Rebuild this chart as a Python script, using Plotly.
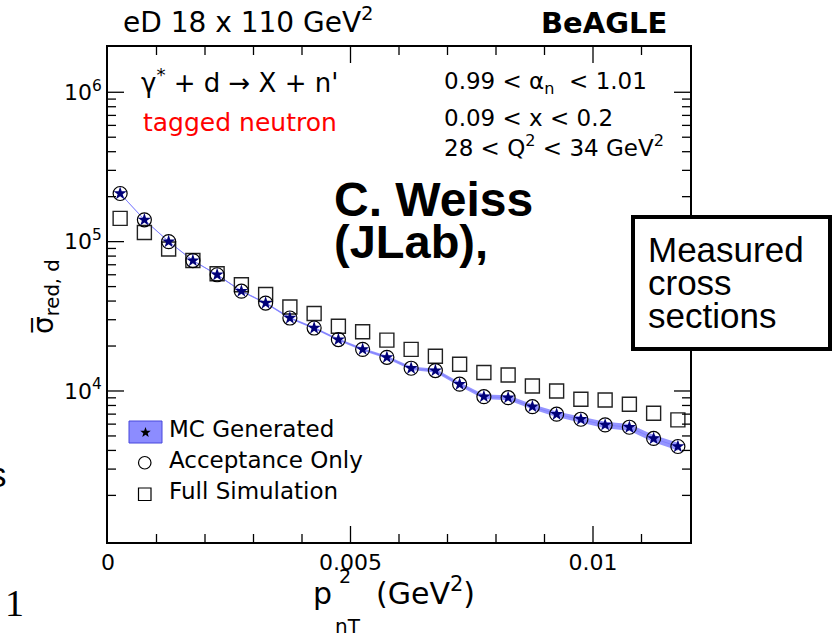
import math
import plotly.graph_objects as go

# ---------------- data ----------------
pt2_bins = [0.00025, 0.00075, 0.00125, 0.00175, 0.00225, 0.00275, 0.00325, 0.00375,
            0.00425, 0.00475, 0.00525, 0.00575, 0.00625, 0.00675, 0.00725, 0.00775,
            0.00825, 0.00875, 0.00925, 0.00975, 0.01025, 0.01075, 0.01125, 0.01175]

mc_generated = [2.10e5, 1.40e5, 1.00e5, 7.47e4, 6.00e4, 4.66e4, 3.88e4, 3.08e4,
                2.64e4, 2.21e4, 1.90e4, 1.68e4, 1.42e4, 1.37e4, 1.11e4, 9.16e3,
                9.02e3, 7.85e3, 6.99e3, 6.47e3, 5.93e3, 5.72e3, 4.81e3, 4.25e3]

mc_rel_err = [0.003, 0.004, 0.005, 0.006, 0.008, 0.010, 0.012, 0.014,
              0.016, 0.018, 0.020, 0.023, 0.026, 0.028, 0.031, 0.034,
              0.037, 0.040, 0.043, 0.046, 0.049, 0.052, 0.056, 0.060]

acceptance_only = [2.10e5, 1.40e5, 1.00e5, 7.47e4, 6.00e4, 4.66e4, 3.88e4, 3.08e4,
                   2.64e4, 2.21e4, 1.90e4, 1.68e4, 1.42e4, 1.37e4, 1.11e4, 9.16e3,
                   9.02e3, 7.85e3, 6.99e3, 6.47e3, 5.93e3, 5.72e3, 4.81e3, 4.25e3]

full_simulation = [1.43e5, 1.15e5, 8.93e4, 7.47e4, 6.09e4, 5.14e4, 4.43e4, 3.65e4,
                   3.30e4, 2.71e4, 2.49e4, 2.19e4, 1.90e4, 1.71e4, 1.51e4, 1.33e4,
                   1.28e4, 1.08e4, 1.00e4, 8.81e3, 8.71e3, 8.15e3, 7.09e3, 6.41e3]

x_tick_vals = [0, 0.005, 0.01]
x_tick_text = ["0", "0.005", "0.01"]
x_minor_vals = [0.001, 0.002, 0.003, 0.004, 0.006, 0.007, 0.008, 0.009, 0.011]
y_tick_vals = [1e4, 1e5, 1e6]
y_tick_text = ["10<sup>4</sup>", "10<sup>5</sup>", "10<sup>6</sup>"]
y_minor_vals = [k * 10 ** d for d in range(3, 7) for k in range(2, 10) if k * 10 ** d < 2e6]

legend_labels = ["MC Generated", "Acceptance Only", "Full Simulation"]

# ---------------- geometry helpers ----------------
W, H = 833, 634
L, R, T, B = 108, 690, 47, 542
PW, PH = R - L, B - T
X_RANGE = [0, 0.012]
Y_LOG_RANGE = [2.989, 6.303]


def px(x):
    return (x - L) / PW


def py(y):
    return (B - y) / PH


ROOT_FONT = "DejaVu Sans"
SLIDE_FONT = "Liberation Sans"

fig = go.Figure()

band_lo = [v * (1 - e) for v, e in zip(mc_generated, mc_rel_err)]
band_hi = [v * (1 + e) for v, e in zip(mc_generated, mc_rel_err)]

fig.add_trace(go.Scatter(x=pt2_bins, y=band_lo, mode="lines",
                         line=dict(width=0, color="rgba(130,130,255,0)"),
                         showlegend=False, hoverinfo="skip"))
fig.add_trace(go.Scatter(x=pt2_bins, y=band_hi, mode="lines", fill="tonexty",
                         fillcolor="rgba(130,130,255,0.85)",
                         line=dict(width=0, color="rgba(130,130,255,0)"),
                         showlegend=False, hoverinfo="skip"))
fig.add_trace(go.Scatter(x=pt2_bins, y=mc_generated, mode="lines",
                         line=dict(width=1, color="rgb(130,130,255)"),
                         showlegend=False, hoverinfo="skip"))

fig.add_trace(go.Scatter(x=pt2_bins, y=full_simulation, mode="markers",
                         marker=dict(symbol="square-open", size=14, color="#222222",
                                     line=dict(width=1.4, color="#222222")),
                         name=legend_labels[2], showlegend=False))
fig.add_trace(go.Scatter(x=pt2_bins, y=acceptance_only, mode="markers",
                         marker=dict(symbol="circle-open", size=14, color="black",
                                     line=dict(width=1.2, color="black")),
                         name=legend_labels[1], showlegend=False))
fig.add_trace(go.Scatter(x=pt2_bins, y=mc_generated, mode="markers",
                         marker=dict(symbol="star", size=10, color="#000078",
                                     line=dict(width=0)),
                         name=legend_labels[0], showlegend=False))

# ---------------- axis tick marks (inside, mirrored), drawn as a line trace ----------------
ylo, yhi = Y_LOG_RANGE
xlo, xhi = X_RANGE
tick_x, tick_y = [], []
for v in x_tick_vals[1:] + x_minor_vals:
    frac = (16 if v in x_tick_vals else 8) / PH * (yhi - ylo)
    tick_x += [v, v, None, v, v, None]
    tick_y += [10 ** ylo, 10 ** (ylo + frac), None, 10 ** yhi, 10 ** (yhi - frac), None]
for v in y_tick_vals + y_minor_vals:
    frac = (16 if v in y_tick_vals else 8) / PW * (xhi - xlo)
    tick_x += [xlo, xlo + frac, None, xhi, xhi - frac, None]
    tick_y += [v, v, None, v, v, None]
fig.add_trace(go.Scatter(x=tick_x, y=tick_y, mode="lines", connectgaps=False,
                         line=dict(color="black", width=1.3), cliponaxis=False,
                         showlegend=False, hoverinfo="skip"))

shapes = []
# ---------------- hand-built legend glyphs (paper coordinates) ----------------
shapes.append(dict(type="rect", xref="paper", yref="paper",
                   x0=px(129), x1=px(162), y0=py(443), y1=py(421),
                   fillcolor="rgb(140,140,255)", line=dict(color="rgb(70,70,220)", width=1)))


def star_path(cx, cy, r_out, r_in):
    pts = []
    for i in range(10):
        r = r_out if i % 2 == 0 else r_in
        a = math.pi / 2 + i * math.pi / 5
        pts.append((px(cx + r * math.cos(a)), py(cy - r * math.sin(a))))
    return "M " + " L ".join(f"{x:.5f},{y:.5f}" for x, y in pts) + " Z"


shapes.append(dict(type="path", xref="paper", yref="paper",
                   path=star_path(145.5, 432.5, 5.5, 2.3),
                   fillcolor="black", line=dict(width=0)))
shapes.append(dict(type="circle", xref="paper", yref="paper",
                   x0=px(138.5), x1=px(151), y0=py(469), y1=py(456.5),
                   line=dict(color="black", width=1.2)))
shapes.append(dict(type="rect", xref="paper", yref="paper",
                   x0=px(138.5), x1=px(151), y0=py(500.5), y1=py(488),
                   line=dict(color="black", width=1.2)))
# slide overlay box
shapes.append(dict(type="rect", xref="paper", yref="paper",
                   x0=px(633), x1=px(830), y0=py(349), y1=py(217),
                   fillcolor="white", line=dict(color="black", width=4), layer="above"))

annotations = []


def text_at(txt, x, baseline, size, family=ROOT_FONT, color="black", xanchor="left",
            descent=0.236, bold=False):
    t = f"<b>{txt}</b>" if bold else txt
    annotations.append(dict(text=t, x=px(x), y=py(baseline + descent * size),
                            xref="paper", yref="paper", xanchor=xanchor, yanchor="bottom",
                            showarrow=False, borderpad=0,
                            font=dict(family=family, size=size, color=color)))


# header
text_at("eD 18 x 110 GeV<sup>2</sup>", 122, 33.3, 28)
text_at("BeAGLE", 540, 34, 29, bold=True)
# in-plot labels
text_at("γ<sup>*</sup> + d → X + n'", 140, 93.3, 26)
text_at("tagged neutron", 142, 131.7, 25, color="red")
text_at("0.99 < α<sub>n</sub>  < 1.01", 443, 93.3, 23)
text_at("0.09 < x < 0.2", 443, 126.7, 23)
text_at("28 < Q<sup>2</sup> < 34 GeV<sup>2</sup>", 443, 156.7, 23)
# legend labels
for lab, base in zip(legend_labels, [438, 469, 500]):
    text_at(lab, 168, base, 23)
# slide overlay text
text_at("C. Weiss", 333, 216.7, 48, family=SLIDE_FONT, bold=True, descent=0.212)
text_at("(JLab),", 333, 259, 47, family=SLIDE_FONT, bold=True, descent=0.212)
for line, base in zip(["Measured", "cross", "sections"], [262.7, 295.5, 328.3]):
    text_at(line, 647, base, 35, family=SLIDE_FONT, descent=0.212)
text_at("s", 8, 488, 35, family=SLIDE_FONT, xanchor="right", descent=0.212)
text_at("1", 4, 617, 38, family="Liberation Serif", descent=0.216)
# x axis title (stacked super/subscript)
text_at("p", 312, 605, 30)
text_at("2", 338, 584, 19)
text_at("nT", 334, 634, 20)
text_at("(GeV<sup>2</sup>)", 375, 605, 30)
# y axis title
annotations.append(dict(text="σ\u0305<sub>red, d</sub>", x=px(45), y=py(297),
                        xref="paper", yref="paper", xanchor="center", yanchor="middle",
                        textangle=-90, showarrow=False, borderpad=0,
                        font=dict(family=ROOT_FONT, size=28, color="black")))

fig.update_layout(
    width=W, height=H,
    margin=dict(l=L, r=W - R, t=T, b=H - B),
    paper_bgcolor="white", plot_bgcolor="white",
    showlegend=False,
    annotations=annotations,
    shapes=shapes,
    xaxis=dict(range=X_RANGE, tickmode="array", tickvals=x_tick_vals, ticktext=x_tick_text,
               ticks="", showline=True, linecolor="black", linewidth=1.5, mirror=True,
               showgrid=False, zeroline=False,
               tickfont=dict(family=ROOT_FONT, size=22, color="black")),
    yaxis=dict(type="log", range=Y_LOG_RANGE, tickmode="array",
               tickvals=y_tick_vals, ticktext=y_tick_text,
               ticks="", showline=True, linecolor="black", linewidth=1.5, mirror=True,
               showgrid=False, zeroline=False,
               tickfont=dict(family=ROOT_FONT, size=22, color="black")),
)

fig.write_html("out.html")
